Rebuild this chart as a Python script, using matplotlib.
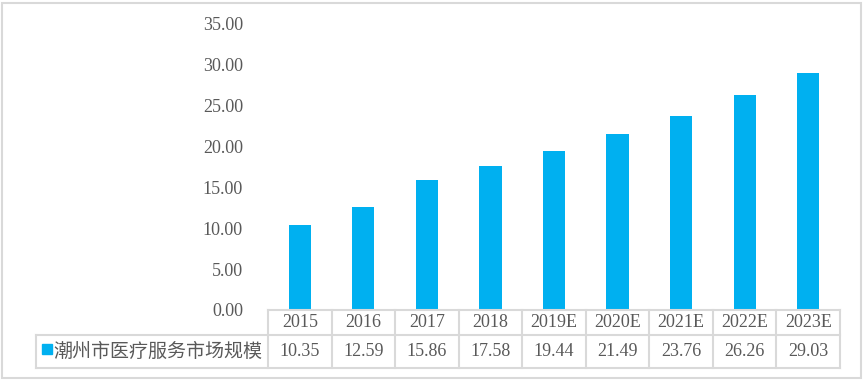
import matplotlib
matplotlib.use("Agg")
from matplotlib import pyplot as plt
from matplotlib.patches import Rectangle

# data
years = ["2015", "2016", "2017", "2018", "2019E", "2020E", "2021E", "2022E", "2023E"]
values = [10.35, 12.59, 15.86, 17.58, 19.44, 21.49, 23.76, 26.26, 29.03]
series_name = "潮州市医疗服务市场规模"
yticks = [0, 5, 10, 15, 20, 25, 30, 35]

BAR = "#00B0F0"
TXT = "#595959"
GRID = "#D9D9D9"
W, H = 864, 380


def main():
    plt.rcParams['font.family'] = ['Liberation Serif', 'Noto Sans CJK SC']
    fig = plt.figure(figsize=(W / 100, H / 100), dpi=100)

    # outer chart border
    fig.patches.append(Rectangle((2 / W, 2 / H), 859 / W, 375 / H,
                                 transform=fig.transFigure, fill=False,
                                 edgecolor=GRID, linewidth=1.5))

    ax = fig.add_axes([268 / W, 70 / H, 572 / W, 286 / H])
    n = len(years)
    ax.bar(range(n), values, width=0.35, color=BAR)
    ax.set_xlim(-0.5, n - 0.5)
    ax.set_ylim(0, 35)
    ax.set_yticks(yticks)
    ax.set_yticklabels([f"{v:.2f}" for v in yticks], color=TXT, fontsize=13)
    ax.tick_params(axis='y', length=0, pad=18)
    ax.set_xticks([])
    for s in ax.spines.values():
        s.set_visible(False)

    # data table below the plot
    tr = ax.get_xaxis_transform()
    px = 1 / 286
    r0, r1, r2 = 0, -25 * px, -58 * px
    left = -0.5 - (268 - 36) / (572 / n)
    kw = dict(transform=tr, clip_on=False, color=GRID, linewidth=1.5)
    ax.plot([-0.5, n - 0.5], [r0, r0], **kw)
    ax.plot([left, n - 0.5], [r1, r1], **kw)
    ax.plot([left, n - 0.5], [r2, r2], **kw)
    ax.plot([left, left], [r1, r2], **kw)
    for i in range(n + 1):
        ax.plot([i - 0.5, i - 0.5], [r0, r2], **kw)
    for i, (yr, v) in enumerate(zip(years, values)):
        ax.text(i, (r0 + r1) / 2, yr, transform=tr, ha='center', va='center',
                color=TXT, fontsize=13)
        ax.text(i, (r1 + r2) / 2, f"{v:.2f}", transform=tr, ha='center',
                va='center', color=TXT, fontsize=13)

    # legend key in the table
    ax.text(-0.5 - 6 / (572 / n), (r1 + r2) / 2, series_name, transform=tr,
            ha='right', va='center', color=TXT, fontsize=13.7,
            family=['Noto Sans CJK SC'])
    fig.patches.append(Rectangle((42 / W, 26 / H), 10 / W, 10 / H,
                                 transform=fig.transFigure, color=BAR))

    fig.savefig("out.png", dpi=100)


if __name__ == "__main__":
    main()
